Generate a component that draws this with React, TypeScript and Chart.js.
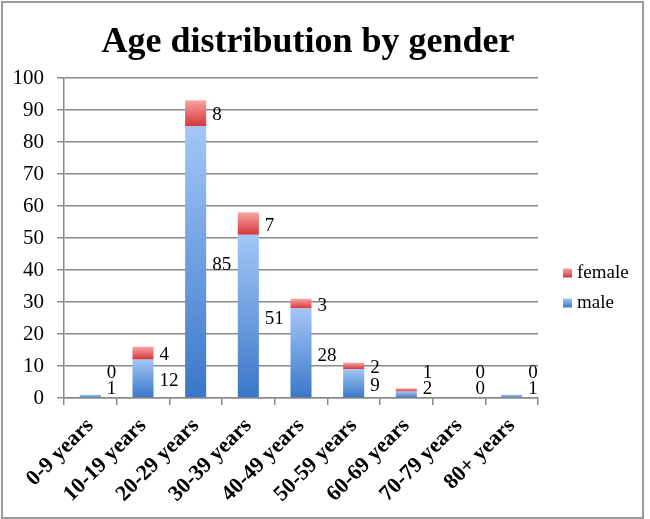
import React, { useEffect, useRef } from "react";
import { Chart, registerables } from "chart.js";

Chart.register(...registerables);

const categories = [
  "0-9 years",
  "10-19 years",
  "20-29 years",
  "30-39 years",
  "40-49 years",
  "50-59 years",
  "60-69 years",
  "70-79 years",
  "80+ years",
];
const maleValues = [1, 12, 85, 51, 28, 9, 2, 0, 1];
const femaleValues = [0, 4, 8, 7, 3, 2, 1, 0, 0];
const yTicks = [0, 10, 20, 30, 40, 50, 60, 70, 80, 90, 100];
const titleText = "Age distribution by gender";

const SERIF = '"Liberation Serif", "Times New Roman", serif';

const maleColors = { top: "#a3c7f7", bottom: "#3a76c8", solid: "#5b92dc" };
const femaleColors = { top: "#f7a3a3", bottom: "#d6363a", solid: "#e25a5c" };

function makeGradient(ctx: any, isFemale: boolean) {
  const chart = ctx.chart;
  const cols = isFemale ? femaleColors : maleColors;
  const y = chart.scales && chart.scales.y;
  if (!y || !chart.chartArea || typeof ctx.dataIndex !== "number") return cols.solid;
  const i = ctx.dataIndex;
  const lo = isFemale ? maleValues[i] : 0;
  const hi = lo + (isFemale ? femaleValues[i] : maleValues[i]);
  const top = y.getPixelForValue(hi);
  const bot = y.getPixelForValue(lo);
  if (!isFinite(top) || !isFinite(bot) || Math.abs(bot - top) < 0.5) return cols.solid;
  const g = chart.ctx.createLinearGradient(0, top, 0, bot);
  g.addColorStop(0, cols.top);
  g.addColorStop(1, cols.bottom);
  return g;
}

const decorPlugin = {
  id: "decor",
  beforeDraw(chart: any) {
    const c = chart.ctx;
    c.save();
    c.fillStyle = "#ffffff";
    c.fillRect(0, 0, chart.width, chart.height);
    c.strokeStyle = "#9a9a9a";
    c.lineWidth = 2;
    c.strokeRect(2, 2, 641, 516);
    c.restore();
  },
  afterDraw(chart: any) {
    const c = chart.ctx;
    c.save();
    // title
    c.fillStyle = "#000";
    c.font = `bold 36px ${SERIF}`;
    c.textAlign = "center";
    c.textBaseline = "alphabetic";
    c.fillText(titleText, 308, 52);
    // legend
    c.font = `19px ${SERIF}`;
    c.textAlign = "left";
    c.textBaseline = "middle";
    const items = [
      { label: "female", col: femaleColors, y: 273 },
      { label: "male", col: maleColors, y: 303 },
    ];
    items.forEach((it) => {
      const g = c.createLinearGradient(0, it.y - 4.5, 0, it.y + 4.5);
      g.addColorStop(0, it.col.top);
      g.addColorStop(1, it.col.bottom);
      c.fillStyle = g;
      c.fillRect(563, it.y - 4.5, 9, 9);
      c.fillStyle = "#000";
      c.fillText(it.label, 577, it.y);
    });
    c.restore();
  },
  afterDatasetsDraw(chart: any) {
    const c = chart.ctx;
    const mMeta = chart.getDatasetMeta(0);
    const fMeta = chart.getDatasetMeta(1);
    c.save();
    c.fillStyle = "#000";
    c.font = `19px ${SERIF}`;
    c.textAlign = "left";
    c.textBaseline = "middle";
    const bottomLimit = chart.chartArea.bottom - 9;
    categories.forEach((_, i) => {
      const m = mMeta.data[i];
      const f = fMeta.data[i];
      if (!m || !f) return;
      const x = m.x + m.width / 2 + 6;
      let my = (m.y + m.base) / 2 + 3;
      if (my > bottomLimit) my = bottomLimit;
      let fy = (f.y + f.base) / 2 + 2;
      if (fy > my - 16) fy = my - 16;
      c.fillText(String(maleValues[i]), x, my);
      c.fillText(String(femaleValues[i]), x, fy);
    });
    c.restore();
  },
};

export default function App() {
  const ref = useRef<HTMLCanvasElement | null>(null);
  useEffect(() => {
    document.body.style.margin = "0";
    const canvas = ref.current;
    if (!canvas) return;
    const chart = new Chart(canvas, {
      type: "bar",
      data: {
        labels: categories,
        datasets: [
          {
            label: "male",
            data: maleValues,
            backgroundColor: (ctx: any) => makeGradient(ctx, false),
            borderWidth: 0,
            categoryPercentage: 1,
            barPercentage: 0.4,
            stack: "s",
          },
          {
            label: "female",
            data: femaleValues,
            backgroundColor: (ctx: any) => makeGradient(ctx, true),
            borderWidth: 0,
            categoryPercentage: 1,
            barPercentage: 0.4,
            stack: "s",
          },
        ],
      },
      plugins: [decorPlugin],
      options: {
        responsive: false,
        animation: false,
        maintainAspectRatio: false,
        layout: { padding: { left: 0, right: 112, top: 78, bottom: 0 } },
        plugins: {
          legend: { display: false },
          title: { display: false },
          tooltip: { enabled: false },
        },
        scales: {
          x: {
            stacked: true,
            afterFit: (s: any) => {
              s.height = 519 - 398;
            },
            grid: {
              offset: true,
              drawOnChartArea: false,
              drawTicks: true,
              tickLength: 7,
              color: "#8a8a8a",
              lineWidth: 1.5,
            },
            border: { display: true, color: "#8a8a8a", width: 1.5 },
            ticks: {
              color: "#000",
              font: { family: SERIF, size: 22, weight: "bold" },
              maxRotation: 45,
              minRotation: 45,
              autoSkip: false,
              padding: 8,
            },
          },
          y: {
            stacked: true,
            min: 0,
            max: 100,
            afterFit: (s: any) => {
              s.width = 64;
            },
            afterBuildTicks: (s: any) => {
              s.ticks = yTicks.map((v) => ({ value: v }));
            },
            grid: {
              color: "#8a8a8a",
              lineWidth: 1.5,
              drawTicks: true,
              tickLength: 7,
            },
            border: { display: true, color: "#8a8a8a", width: 1.5 },
            ticks: {
              color: "#000",
              font: { family: SERIF, size: 21 },
              padding: 13,
            },
          },
        },
      },
    });
    return () => chart.destroy();
  }, []);
  return <canvas ref={ref} width={650} height={519} style={{ display: "block" }} />;
}
